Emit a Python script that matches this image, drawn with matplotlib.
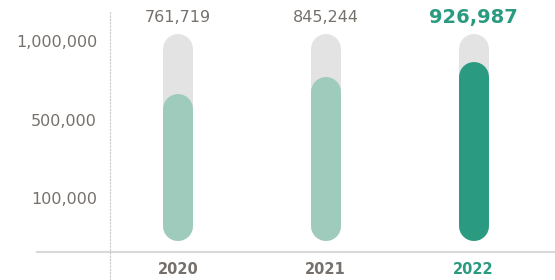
import numpy as np
import matplotlib
matplotlib.use('Agg')
import matplotlib.pyplot as plt

# data
years = ['2020', '2021', '2022']
values = [761719, 845244, 926987]
cap_value = 1070000          # value of the full grey capsule
ytick_labels = ['1,000,000', '500,000', '100,000']

# colors
grey_txt = '#75706c'
green = '#2a9a80'
light_green = '#9ecbbb'
bg_grey = '#e3e3e3'

W, H, DPI = 555, 280, 100
fig = plt.figure(figsize=(W / DPI, H / DPI), dpi=DPI)

# axes from the dotted line (x=110) to right edge, y from 10 px to bottom
ax = fig.add_axes([110 / W, 0, 1 - 110 / W, (H - 10) / H])

cap_px = 207                 # capsule height in pixels
PX = cap_value / cap_px      # value per pixel
bar_w = 30                   # px
r = bar_w / 2 * PX           # cap radius in data units
base_px = 241                # capsule bottom (pixel row)

ax.set_ylim(-(H - base_px) * PX, (base_px - 10) * PX)
ax.set_xlim((110 - 178) / 147.75, (555 - 178) / 147.75)

x = np.arange(len(years))
lw_pt = bar_w * 72 / DPI
for i, v in enumerate(values):
    ax.plot([x[i], x[i]], [r, cap_value - r], color=bg_grey, lw=lw_pt,
            solid_capstyle='round', zorder=1)
    c = green if i == len(values) - 1 else light_green
    ax.plot([x[i], x[i]], [r, v - r], color=c, lw=lw_pt,
            solid_capstyle='round', zorder=2)
    # value labels
    if i == len(values) - 1:
        ax.text(x[i], (base_px - 18) * PX, f'{v:,}', ha='center', va='center',
                fontsize=14, fontweight='bold', color=green)
    else:
        ax.text(x[i], (base_px - 18) * PX, f'{v:,}', ha='center', va='center',
                fontsize=11.5, color=grey_txt)
    # year labels
    ax.text(x[i], (base_px - 270) * PX, years[i], ha='center', va='center',
            fontsize=10.5, fontweight='bold',
            color=green if i == len(values) - 1 else grey_txt)

# baseline
ax.axhline((base_px - 252) * PX, xmin=-(110 - 37) / (W - 110), xmax=1,
           color='#d8d8d8', lw=1.5, clip_on=False, zorder=0)

# decorative y labels
for lab, py in zip(ytick_labels, [42, 121, 200]):
    ax.text(-13 / (W - 110), (base_px - py) * PX, lab, transform=ax.get_yaxis_transform(),
            ha='right', va='center', fontsize=11.5, color=grey_txt)

for s in ['top', 'right', 'bottom']:
    ax.spines[s].set_visible(False)
ax.spines['left'].set_linestyle((0, (1, 2)))
ax.spines['left'].set_color('#c8c8c8')
ax.spines['left'].set_linewidth(0.8)
ax.set_xticks([])
ax.set_yticks([])

fig.savefig('out.png', dpi=DPI)
